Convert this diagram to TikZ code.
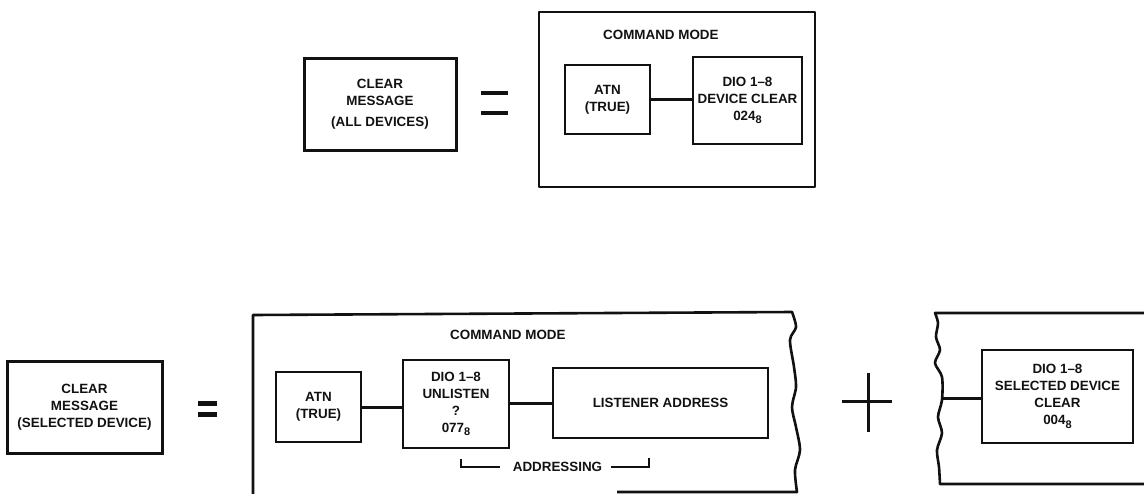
\documentclass[tikz,border=0pt]{standalone}
\usepackage{fontspec}
\setmainfont{Liberation Sans}
\usepackage{xcolor}
\usepackage{tikz}
\usetikzlibrary{positioning,calc}
\definecolor{InkBlack}{HTML}{111111}
\newcommand{\octnum}[1]{#1\raisebox{-3.5pt}{\fontsize{11}{11}\selectfont 8}}

\begin{document}
\begin{tikzpicture}[x=1pt,y=-1pt,InkBlack,
		every node/.style={font=\fontsize{13.4}{17}\selectfont\bfseries,align=center,inner sep=0pt},
		msgbox/.style={draw,line width=3pt},
		framebox/.style={draw,line width=2.6pt,line join=round},
		cellbox/.style={draw,line width=1.7pt},
		link/.style={line width=3pt},
		eqbar/.style={line width=4pt}]
		\useasboundingbox (0,0) rectangle (1144,493);
		% all devices
		\node[msgbox,minimum width=152pt,minimum height=92pt] (allmsg) at (380,104) {CLEAR\\MESSAGE\\[4pt](ALL DEVICES)};
		\draw[eqbar] (481,93) -- (508,93) (481,113) -- (508,113);
		\node[framebox,minimum width=276pt,minimum height=175pt] (cmdtop) at (677,99.5) {};
		\node[anchor=west] (modetop) at (603,35) {COMMAND MODE};
		\node[cellbox,minimum width=85pt,minimum height=69pt] (atntop) at (607.5,99.5) {ATN\\(TRUE)};
		\node[cellbox,minimum width=109pt,minimum height=87pt] (dcltop) at (747.5,100.5) {DIO 1--8\\DEVICE CLEAR\\\octnum{024}};
		\draw[link,line width=3.6pt] (atntop.east) -- (atntop.east -| dcltop.west);
		% selected device
		\node[msgbox,minimum width=155pt,minimum height=92pt] (selmsg) at (84.5,407) {CLEAR\\MESSAGE\\(SELECTED DEVICE)};
		\draw[eqbar,line width=5pt] (198,403) -- (217,403) (198,414) -- (217,414);
		\draw[framebox] (253,494) -- (253,315) -- (792,312)
			-- plot[smooth] coordinates {(792,312) (796,327) (790,340) (794,367) (796,387) (792,407) (796,427) (800,450) (795,470) (797,492)}
			-- (617,492);
		\node[anchor=west] (modesel) at (450,335) {COMMAND MODE};
		\node[cellbox,minimum width=85pt,minimum height=70pt] (atnsel) at (318.5,407) {ATN\\(TRUE)};
		\node[cellbox,minimum width=106pt,minimum height=88pt] (unl) at (456,404) {DIO 1--8\\UNLISTEN\\?\\\octnum{077}};
		\node[cellbox,minimum width=215pt,minimum height=70pt] (lsn) at (660.5,403) {LISTENER ADDRESS};
		\draw[link] (atnsel.east) -- (atnsel.east -| unl.west);
		\draw[link] (lsn.west -| unl.east) -- (lsn.west);
		\node (addr) at (557.5,467) {ADDRESSING};
		\draw[line width=1.4pt] (461,459) |- ([xshift=-13pt]addr.west);
		\draw[line width=1.4pt] ([xshift=9pt]addr.east) -| (649,458);
		\draw[line width=3pt] (842,401) -- (892,401) (868,373) -- (868,432);
		\draw[framebox] (1144,313) -- (935,313)
			-- plot[smooth] coordinates {(935,313) (938,323) (936,337) (940,350) (935,363) (942,377) (942,400) (938,417) (942,433) (937,450) (939,467) (940,484)}
			-- (1144,484);
		\coordinate (tap) at (942,398);
		\node[cellbox,minimum width=151pt,minimum height=93pt] (seldcl) at (1057.5,396.5) {DIO 1--8\\SELECTED DEVICE\\CLEAR\\\octnum{004}};
		\draw[link] (tap) -- (tap -| seldcl.west);
	\end{tikzpicture}
\end{document}
